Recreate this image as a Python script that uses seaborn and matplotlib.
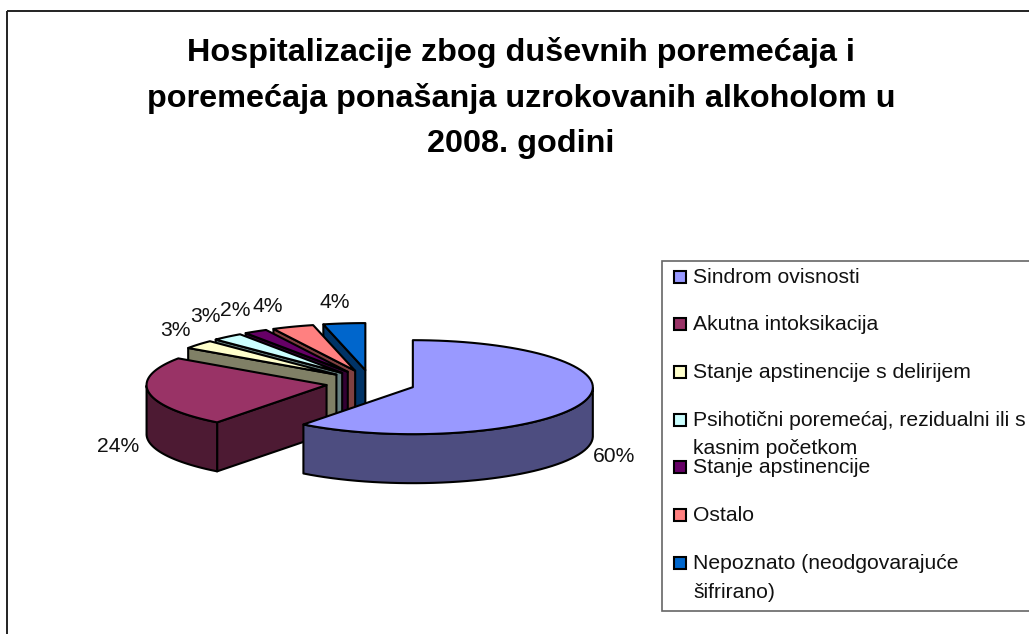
import numpy as np
import seaborn as sns
import matplotlib.pyplot as plt
from matplotlib.patches import Polygon, Rectangle

sns.set_style("white")
plt.rcParams['font.family'] = ['Liberation Sans', 'DejaVu Sans']

categories = ["Sindrom ovisnosti", "Akutna intoksikacija", "Stanje apstinencije s delirijem",
              "Psihotični poremećaj, rezidualni ili s\nkasnim početkom", "Stanje apstinencije",
              "Ostalo", "Nepoznato (neodgovarajuće\nšifrirano)"]
values = [60.4, 24.2, 3.0, 2.8, 2.1, 3.75, 3.75]
colors = ["#9999FF", "#993366", "#FFFFCC", "#CCFFFF", "#660066", "#FF8080", "#0066CC"]
side_colors = ["#4D4D80", "#4D1A33", "#808066", "#668080", "#330033", "#804040", "#003366"]
title_lines = ["Hospitalizacije zbog duševnih poremećaja i",
               "poremećaja ponašanja uzrokovanih alkoholom u",
               "2008. godini"]

# layout in pixels
cx, cy = 370.6, 383
rx, ry = 180, 47
ex, ey = 44.6, 13
depth = 49
label_pos = [(614, 456.5), (118, 447), (175, 331), (205, 316), (235, 310), (268, 306), (335, 303)]
legend_y = [276, 323, 371, 419, 466, 514, 562]

fig = plt.figure(figsize=(10.29, 6.34), dpi=100)
ax = fig.add_axes([0, 0, 1, 1])
ax.set_xlim(0, 1029)
ax.set_ylim(634, 0)
ax.axis('off')

# chart frame, runs off the right and the bottom
ax.add_patch(Rectangle((7, 11), 1060, 660, fill=False, ec='#222222', lw=1.4))

for i, line in enumerate(title_lines):
    ax.text(521, 53 + i * 45.5, line, ha='center', va='center', fontsize=23.3, fontweight='bold', color='black')

# 3d pie, drawn back to front
shares = np.array(values) / sum(values) * 360
ends = np.cumsum(shares)
starts = ends - shares


def rim(px, py, t):
    t = np.radians(t)
    return np.column_stack([px + rx * np.sin(t), py - ry * np.cos(t)])


for i in range(len(values) - 1, -1, -1):
    mid = np.radians((starts[i] + ends[i]) / 2)
    px = cx + ex * np.sin(mid)
    py = cy - ey * np.cos(mid)
    ts = np.linspace(starts[i], ends[i], 80)
    edge = rim(px, py, ts)
    down = np.array([0, depth])
    # wall on the cut side
    if starts[i] >= 180:
        wall = np.array([edge[0], [px, py], [px, py + depth], edge[0] + down])
        ax.add_patch(Polygon(wall, fc=side_colors[i], ec='black', lw=1.5, joinstyle='round'))
    # outer wall, front half only
    front = ts[(ts >= 90) & (ts <= 270)]
    if len(front) > 1:
        arc = rim(px, py, front)
        wall = np.vstack([arc, arc[::-1] + down])
        ax.add_patch(Polygon(wall, fc=side_colors[i], ec='black', lw=1.5, joinstyle='round'))
    top = np.vstack([[px, py], edge])
    ax.add_patch(Polygon(top, fc=colors[i], ec='black', lw=1.5, joinstyle='round'))

for v, (x, y) in zip(values, label_pos):
    ax.text(x, y, f"{v:.0f}%", ha='center', va='center', fontsize=15.2, color='#111111')

# legend
ax.add_patch(Rectangle((661.5, 261), 400, 350, fc='white', ec='#666666', lw=1.2))
for name, color, y in zip(categories, colors, legend_y):
    ax.add_patch(Rectangle((673.5, y - 5), 12, 12, fc=color, ec='black', lw=1.5))
    for j, part in enumerate(name.split("\n")):
        ax.text(693, y + 1.5 + j * 28.5, part, ha='left', va='center', fontsize=15.2, color='#111111')

plt.savefig("out.png", dpi=100)
plt.close()
